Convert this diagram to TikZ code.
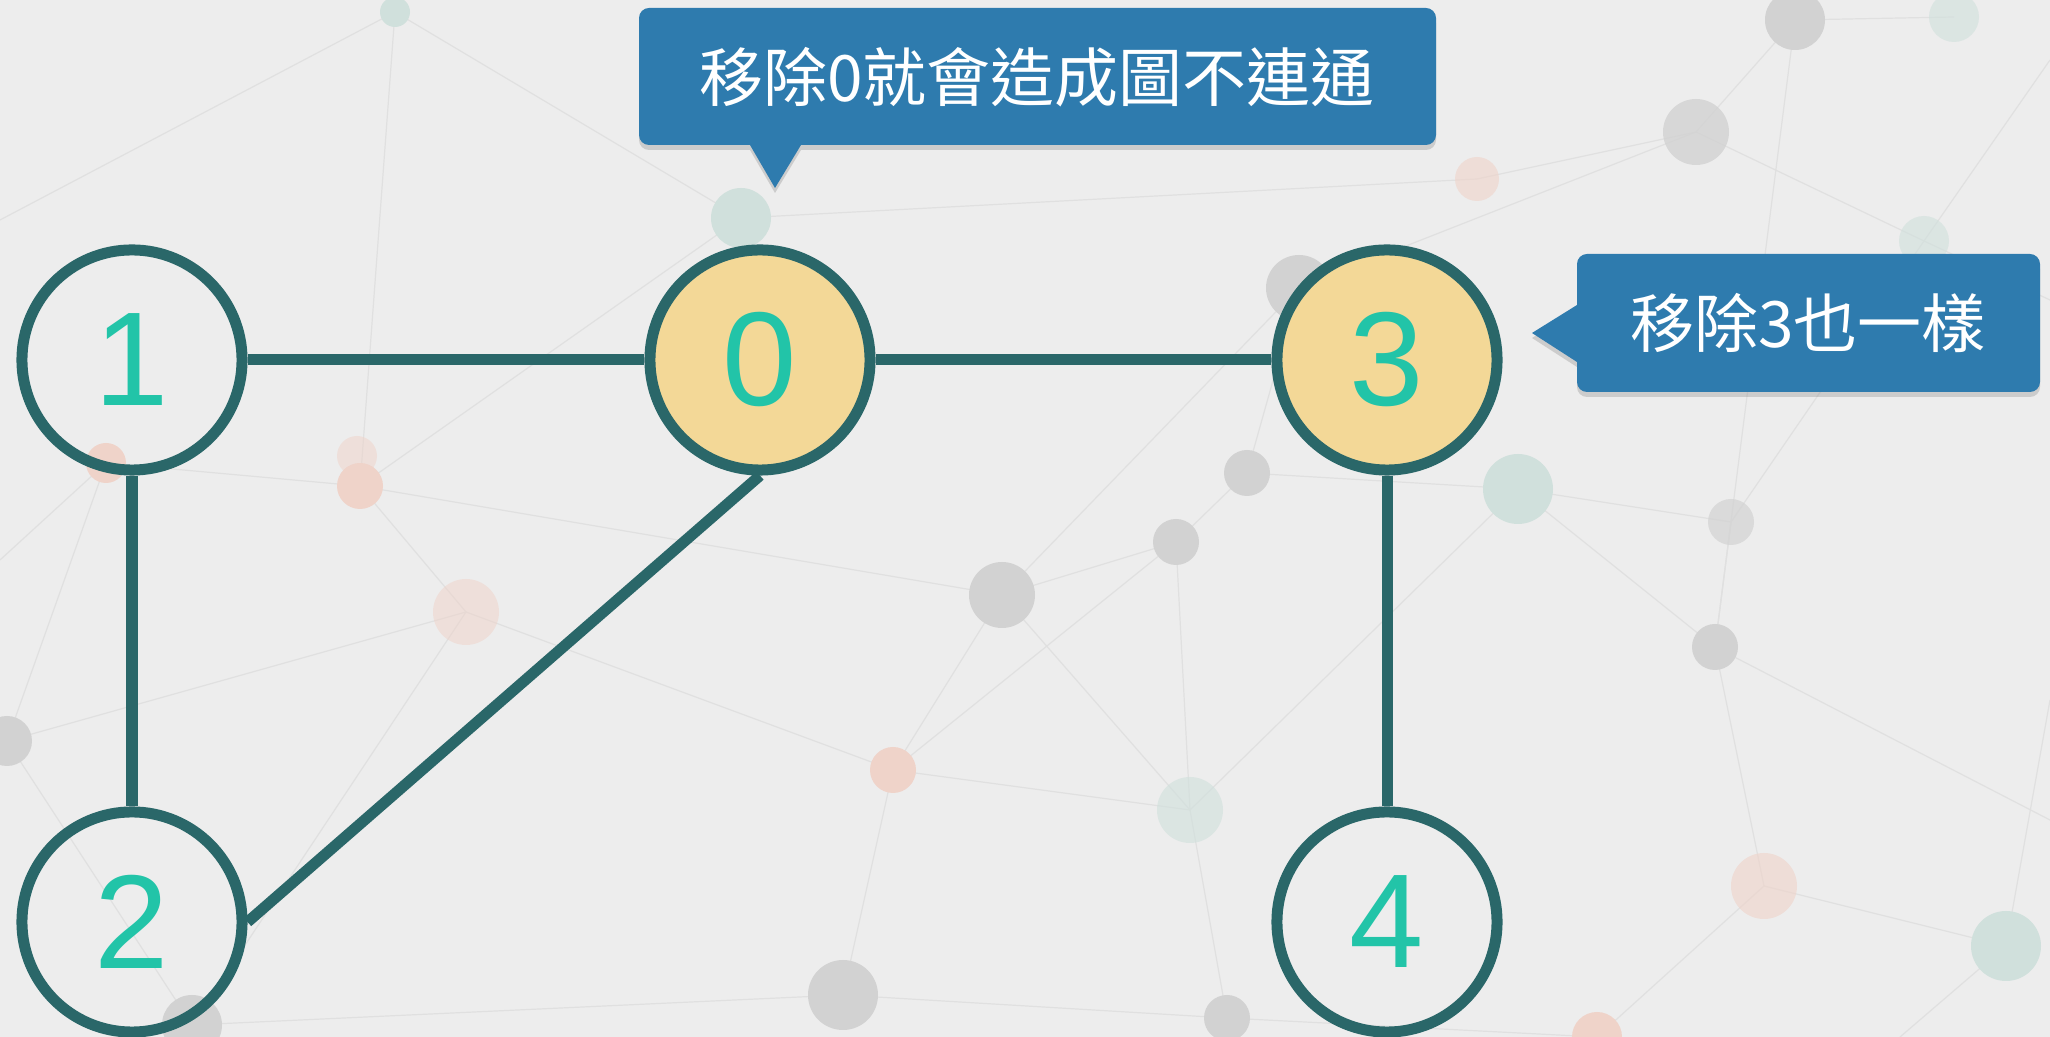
\documentclass[tikz,border=0pt]{standalone}
\usepackage{fontspec}
\setmainfont{Liberation Sans}
\newfontfamily\cjk{Noto Sans CJK TC}
\usetikzlibrary{shadows}
\definecolor{bgc}{HTML}{EDEDED}
\definecolor{netc}{HTML}{E0E0E0}
\definecolor{dotgrey}{HTML}{D2D2D2}
\definecolor{dotpink}{HTML}{EFD3C9}
\definecolor{dotgreen}{HTML}{D0E0DC}
\definecolor{edgec}{HTML}{2A6769}
\definecolor{digitc}{HTML}{22C4A8}
\definecolor{hotc}{HTML}{F3D897}
\definecolor{callc}{HTML}{2E7BAE}
\begin{document}
\begin{tikzpicture}[x=0.01cm,y=-0.01cm,
  net/.style={draw=netc, line width=0.012cm},
  gdot/.style={fill=dotgrey},
  pdot/.style={fill=dotpink},
  ndot/.style={fill=dotgreen},
  vtx/.style={circle, draw=edgec, line width=0.11cm, minimum size=2.2cm, inner sep=0pt,
    text=digitc, font=\fontsize{38}{38}\selectfont},
  hot/.style={vtx, fill=hotc},
  link/.style={draw=edgec, line width=0.11cm},
  callout/.style={fill=callc, drop shadow={shadow xshift=0cm, shadow yshift=-0.05cm, opacity=0.3}},
  calltext/.style={text=white, font=\cjk\fontsize{18.2}{18.2}\selectfont, inner sep=0pt}]
\useasboundingbox (0,0) rectangle (2050,1037);
\fill[bgc] (0,0) rectangle (2050,1037);
% background network
\foreach \p/\q in {{395,12}/{360,486}, {395,12}/{0,220}, {395,12}/{741,218}, {741,218}/{360,486},
  {106,463}/{360,486}, {360,486}/{466,612}, {106,463}/{7,741}, {466,612}/{893,770},
  {466,612}/{7,741}, {893,770}/{843,995}, {893,770}/{1002,595}, {893,770}/{1176,542},
  {843,995}/{192,1025}, {843,995}/{1227,1018}, {466,612}/{192,1025}, {1002,595}/{1176,542},
  {1176,542}/{1247,473}, {1247,473}/{1299,288}, {1299,288}/{1696,132}, {1696,132}/{1795,20},
  {1795,20}/{1954,17}, {1696,132}/{1477,179}, {1477,179}/{741,218}, {1696,132}/{1924,241},
  {1924,241}/{1731,522}, {1731,522}/{1518,489}, {1518,489}/{1247,473}, {1518,489}/{1715,647},
  {1715,647}/{1731,522}, {1715,647}/{1764,886}, {1764,886}/{2006,946}, {1764,886}/{1597,1037},
  {1597,1037}/{1227,1018}, {1190,810}/{1176,542}, {1190,810}/{1227,1018}, {1190,810}/{893,770},
  {2006,946}/{2050,700}, {1924,241}/{2050,300}, {1518,489}/{1190,810}, {1002,595}/{1299,288},
  {106,463}/{0,560}, {1795,20}/{1715,647}, {1002,595}/{1190,810}, {1924,241}/{2050,60},
  {1715,647}/{2050,820}, {2006,946}/{1900,1037}, {192,1025}/{7,741}, {360,486}/{1002,595}} {
  \draw[net] (\p) -- (\q);
}
\fill[ndot] (395,12) circle (15);
\fill[ndot] (741,218) circle (30);
\fill[pdot] (106,463) circle (20);
\fill[pdot] (360,486) circle (23);
\fill[pdot, opacity=0.5] (357,456) circle (20);
\fill[pdot, opacity=0.5] (466,612) circle (33);
\fill[gdot] (1002,595) circle (33);
\fill[gdot] (7,741) circle (25);
\fill[pdot] (893,770) circle (23);
\fill[gdot] (843,995) circle (35);
\fill[gdot] (192,1025) circle (30);
\fill[gdot] (1795,20) circle (30);
\fill[ndot, opacity=0.6] (1954,17) circle (25);
\fill[gdot, opacity=0.8] (1696,132) circle (33);
\fill[pdot, opacity=0.6] (1477,179) circle (22);
\fill[ndot, opacity=0.6] (1924,241) circle (25);
\fill[gdot] (1299,288) circle (33);
\fill[gdot] (1247,473) circle (23);
\fill[ndot] (1518,489) circle (35);
\fill[gdot] (1176,542) circle (23);
\fill[gdot, opacity=0.7] (1731,522) circle (23);
\fill[gdot] (1715,647) circle (23);
\fill[ndot, opacity=0.6] (1190,810) circle (33);
\fill[pdot, opacity=0.6] (1764,886) circle (33);
\fill[ndot] (2006,946) circle (35);
\fill[gdot] (1227,1018) circle (23);
\fill[pdot] (1597,1037) circle (25);
% graph
\node[vtx] (n1) at (132,360) {1};
\node[hot] (n0) at (760,360) {0};
\node[hot] (n3) at (1387,360) {3};
\node[vtx] (n2) at (132,922) {2};
\node[vtx] (n4) at (1387,922) {4};
\draw[link] (n1) -- (n0);
\draw[link] (n0) -- (n3);
\draw[link] (n1) -- (n2);
\draw[link] (n0.south) -- (n2.east);
\draw[link] (n3) -- (n4);
% callouts
\path[callout] (775,188) -- (801,145) [rounded corners=0.1cm] -- (1436,145) -- (1436,8) -- (639,8) -- (639,145) [sharp corners] -- (750,145) -- cycle;
\node[calltext] (c1) at (1037,77) {移除0就會造成圖不連通};
\path[callout] (1532,333) -- (1577,305) [rounded corners=0.1cm] -- (1577,254) -- (2040,254) -- (2040,392) -- (1577,392) [sharp corners] -- (1577,362) -- cycle;
\node[calltext] (c2) at (1808,323) {移除3也一樣};
\end{tikzpicture}
\end{document}
